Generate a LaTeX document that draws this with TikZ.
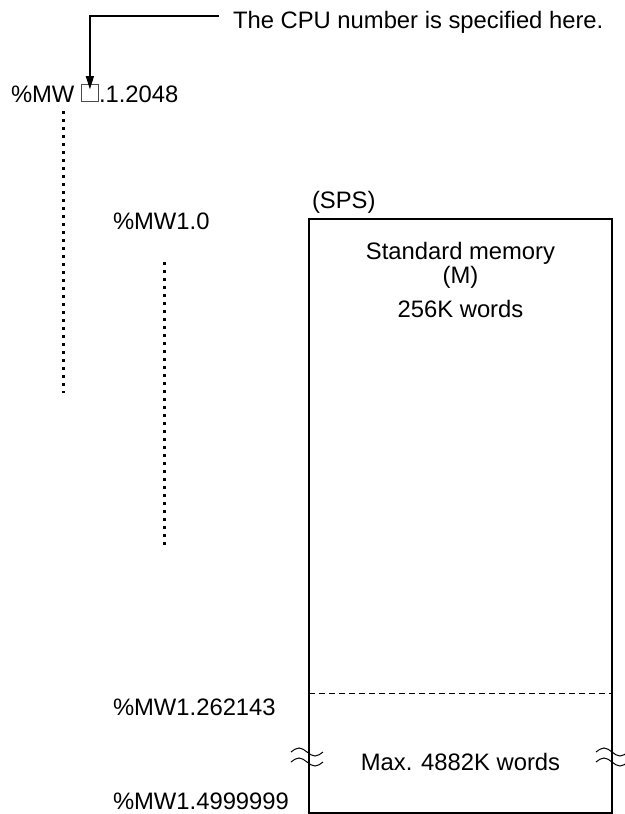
\documentclass[tikz,border=0pt]{standalone}
\usepackage{fontspec}
\setmainfont{Liberation Sans}
\usetikzlibrary{arrows.meta}
\begin{document}
\begin{tikzpicture}[x=1pt,y=-1pt,
  lbl/.style={inner sep=0pt,outer sep=0pt,font=\fontsize{23.8}{28}\selectfont},
  lw/.style={lbl,anchor=base west},
  lc/.style={lbl,anchor=base},
  dotline/.style={line width=3pt,dash pattern=on 3pt off 5pt},
  memline/.style={line width=1.2pt},
  wave/.style={line width=1pt}]
\useasboundingbox (0,0) rectangle (624,814);
% note and arrow
\node[lw] (note) at (233,28) {The CPU number is specified here.};
\coordinate (noteend) at (219,16);
\node[lw] (mw) at (11,102) {\%MW};
\node[draw=black!70,line width=0.8pt,minimum width=17pt,minimum height=17pt,inner sep=0pt,anchor=south west] (sq) at (81,102) {};
\node[lw] (mwrest) at (99,102) {.1.2048};
\coordinate (tip) at ([yshift=-5pt]sq.north);
\draw[memline,-{Triangle[length=13pt,width=8pt]}] (noteend) -| (tip);
% dotted lines
\coordinate (d1a) at (63,111);
\coordinate (d1b) at (63,393);
\draw[dotline] (d1a) -- (d1b);
\coordinate (d2a) at (164,262);
\coordinate (d2b) at (164,545);
\draw[dotline] (d2a) -- (d2b);
% left labels
\node[lw] (mw10) at (113,229) {\%MW1.0};
\node[lw] (mw262) at (113,715) {\%MW1.262143};
\node[lw] (mw499) at (113,809) {\%MW1.4999999};
% memory box
\node[lw] (sps) at (312,208) {(SPS)};
\draw[memline] (309,219) rectangle (612,813);
\draw[line width=1pt,dash pattern=on 6pt off 4pt] (309,693) -- (612,693);
\node[lc] (std) at (460.5,259) {Standard memory};
\node[lc] (m) at (460.5,283) {(M)};
\node[lc] (k256) at (460.5,317) {256K words};
\node[lc] (max) at (460.5,770) {Max. 4882K words};
% break marks
\foreach \cx in {307,612}{
  \foreach \cy in {752,762}{
    \draw[wave] (\cx-16,\cy) sin (\cx-8,\cy-4) cos (\cx,\cy) sin (\cx+8,\cy+4) cos (\cx+16,\cy);
  }
}
\end{tikzpicture}
\end{document}
